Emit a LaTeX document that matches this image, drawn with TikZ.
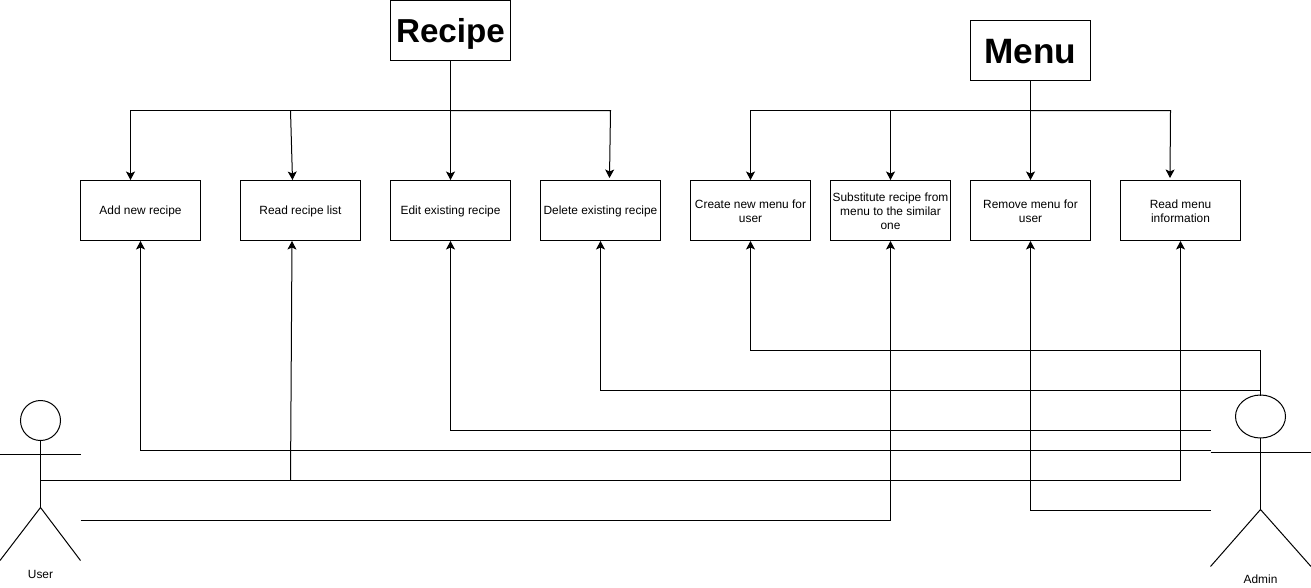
\documentclass[tikz,border=0pt]{standalone}
\usepackage{fontspec}
\setmainfont{Liberation Sans}
\usetikzlibrary{arrows.meta}
\newcommand{\lab}[1]{\raisebox{-1pt}[\height][\depth]{\parbox{120pt}{\centering\strut #1\strut}}}
\newcommand{\labm}[1]{\raisebox{-2pt}[\height][\depth]{\parbox{120pt}{\centering\strut #1\strut}}}
\newcommand{\ttl}[2]{\raisebox{#1}[\height][\depth]{#2}}
\tikzset{
  box/.style={draw=black,line width=1pt,minimum width=120pt,minimum height=60pt,inner sep=0pt,font=\fontsize{11.9}{14}\selectfont},
  titlebox/.style={draw=black,line width=1pt,minimum width=120pt,minimum height=60pt,inner sep=0pt,font=\bfseries},
  conn/.style={draw=black,line width=1pt,-{Stealth[length=8.5pt,width=9pt,inset=2pt]},line join=miter},
  plain/.style={draw=black,line width=1pt},
  actorlabel/.style={font=\fontsize{11.9}{14}\selectfont,inner sep=0pt}
}
\begin{document}
\begin{tikzpicture}[x=1pt,y=-1pt,shift={(0.5,0.5)}]
\useasboundingbox (-0.5,-0.5) rectangle (1310.5,586.5);
% titles
\node[titlebox] (recipe) at (450,30) {\fontsize{33.2}{38}\selectfont\ttl{-3pt}{Recipe}};
\node[titlebox] (menu) at (1030,50) {\fontsize{35.2}{38}\selectfont\ttl{-1pt}{Menu}};
% use-case boxes
\node[box] (add) at (140,210) {\lab{Add new recipe}};
\node[box] (readr) at (300,210) {\lab{Read recipe list}};
\node[box] (edit) at (450,210) {\lab{Edit existing recipe}};
\node[box] (del) at (600,210) {\lab{Delete existing recipe}};
\node[box] (create) at (750,210) {\labm{Create new menu for\\user}};
\node[box] (subst) at (890,210) {\labm{Substitute recipe from\\menu to the similar\\one}};
\node[box] (remove) at (1030,210) {\labm{Remove menu for\\user}};
\node[box] (readm) at (1180,210) {\labm{Read menu\\information}};
% junctions
\coordinate (rj) at (450,110);
\coordinate (mj) at (1030,110);
\coordinate (rjr) at (290,110);
\coordinate (mjs) at (890,110);
% user actor
\draw[plain] (40,420) circle (20);
\coordinate (uneck) at (40,440);
\coordinate (uhip) at (40,507);
\coordinate (uarmL) at (-0.5,453.5);
\coordinate (uarmR) at (80,453.5);
\coordinate (ulegL) at (-0.5,560);
\coordinate (ulegR) at (80,560);
\draw[plain] (uneck) -- (uhip);
\draw[plain] (uarmL) -- (uarmR);
\draw[plain] (ulegL) -- (uhip) -- (ulegR);
\node[actorlabel] (user) at (40,574) {User};
% admin actor
\draw[plain] (1260,416) ellipse (25 and 21.5);
\coordinate (aneck) at (1260,437.5);
\coordinate (ahip) at (1260,509);
\coordinate (aarmL) at (1210,452);
\coordinate (aarmR) at (1310.5,452);
\coordinate (alegL) at (1210,566);
\coordinate (alegR) at (1310.5,566);
\coordinate (atop) at (1260,395);
\draw[plain] (aneck) -- (ahip);
\draw[plain] (aarmL) -- (aarmR);
\draw[plain] (alegL) -- (ahip) -- (alegR);
\node[actorlabel] (admin) at (1260,579) {Admin};
% recipe tree
\draw[conn] (recipe.south) -- (edit.north);
\draw[conn] (rj) -| ([xshift=-10pt]add.north);
\draw[conn] (rjr) -- ([xshift=-8pt]readr.north);
\draw[conn] (rj) -- (610,110) -- ([xshift=9pt,yshift=2pt]del.north);
% menu tree
\draw[conn] (menu.south) -- (remove.north);
\draw[conn] (mj) -| (create.north);
\draw[conn] (mjs) -- (subst.north);
\draw[conn] (mj) -- (1170,110) -- ([xshift=-10.5pt,yshift=2pt]readm.north);
% actor links
\coordinate (ubody) at (40,480);
\coordinate (ureadj) at (290,480);
\coordinate (uarmlow) at (80,520);
\coordinate (alo1) at (1210,430);
\coordinate (alo2) at (1210,450);
\coordinate (alo3) at (1210,510);
\coordinate (ajoin) at (1260,390);
\draw[conn] (ubody) -- (1180,480) -- (readm.south);
\draw[conn] (ureadj) -- ([xshift=-8.5pt]readr.south);
\draw[conn] (uarmlow) -| (subst.south);
\draw[conn] (alo2) -| (add.south);
\draw[conn] (alo1) -| (edit.south);
\draw[conn] (alo3) -| (remove.south);
\draw[conn] (atop) -- (ajoin) -| (del.south);
\draw[conn] (ajoin) -- (1260,350) -| (create.south);
\end{tikzpicture}
\end{document}
